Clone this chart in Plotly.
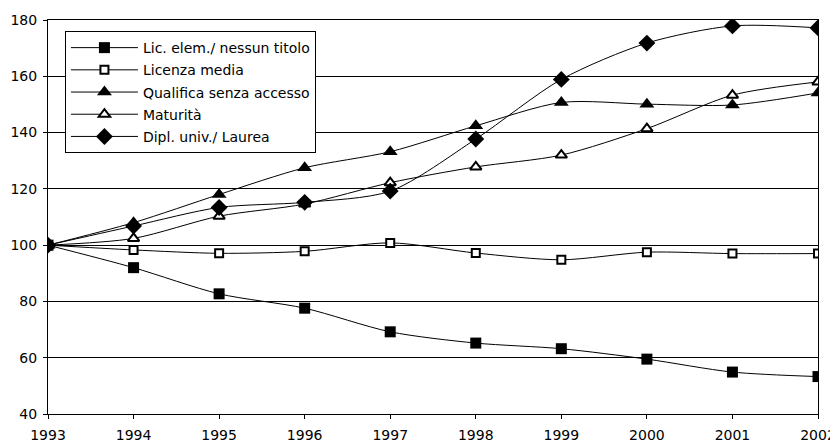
import plotly.graph_objects as go

years = [1993, 1994, 1995, 1996, 1997, 1998, 1999, 2000, 2001, 2002]
lic_elem = [100, 92.0, 82.7, 77.6, 69.2, 65.2, 63.2, 59.5, 54.9, 53.3]
licenza_media = [100, 98.3, 97.1, 97.8, 100.8, 97.2, 94.8, 97.5, 97.0, 97.0]
qualifica = [100, 108.0, 118.0, 127.5, 133.2, 142.4, 150.7, 150.1, 149.8, 154.1]
maturita = [100, 102.4, 110.3, 114.6, 122.2, 127.8, 132.0, 141.4, 153.3, 158.0]
dipl_univ = [100, 106.8, 113.4, 115.2, 119.2, 137.7, 158.9, 171.8, 177.9, 177.2]

series = [
    ("Lic. elem./ nessun titolo", lic_elem, "square", 11, "black"),
    ("Licenza media", licenza_media, "square", 8, "white"),
    ("Qualifica senza accesso", qualifica, "triangle-up", 13, "black"),
    ("Maturità", maturita, "triangle-up", 10, "white"),
    ("Dipl. univ./ Laurea", dipl_univ, "diamond", 13, "black"),
]

fig = go.Figure()
for i, (name, vals, sym, sz, fill) in enumerate(series):
    fig.add_trace(go.Scatter(
        x=years, y=vals, name=name, mode="lines+markers",
        line=dict(color="black", width=1, shape="spline", smoothing=0.8),
        marker=dict(symbol=sym, size=sz, color=fill,
                    line=dict(color="black", width=2 if fill == "white" else 0)),
        legendgroup=f"g{i}",
    ))

font = dict(family="DejaVu Sans, Verdana, sans-serif", size=14, color="black")

# The page body has an 8px margin, so the figure is offset by 8px
fig.update_layout(
    width=830, height=440,
    margin=dict(l=40, r=20, t=12, b=34, autoexpand=False),
    paper_bgcolor="white", plot_bgcolor="white",
    font=font,
    showlegend=True,
    legend=dict(
        x=0.022, y=0.972, xanchor="left", yanchor="top",
        bgcolor="white", bordercolor="black", borderwidth=1,
        font=font, itemwidth=67, tracegroupgap=1,
    ),
    xaxis=dict(
        range=[1993, 2002], tickvals=years, ticktext=[str(y) for y in years],
        showgrid=False, showline=True, linecolor="black", linewidth=1,
        mirror=True, ticks="outside", ticklen=4, tickcolor="black",
        zeroline=False, tickfont=font, automargin=False,
        ticklabelstandoff=4,
    ),
    yaxis=dict(
        range=[40, 180], tickvals=[40, 60, 80, 100, 120, 140, 160, 180],
        showgrid=True, gridcolor="black", gridwidth=1,
        showline=True, linecolor="black", linewidth=1, mirror=True,
        ticks="outside", ticklen=4, tickcolor="black",
        zeroline=False, tickfont=font, automargin=False,
        ticklabelstandoff=3,
    ),
)

fig.write_html("out.html")
